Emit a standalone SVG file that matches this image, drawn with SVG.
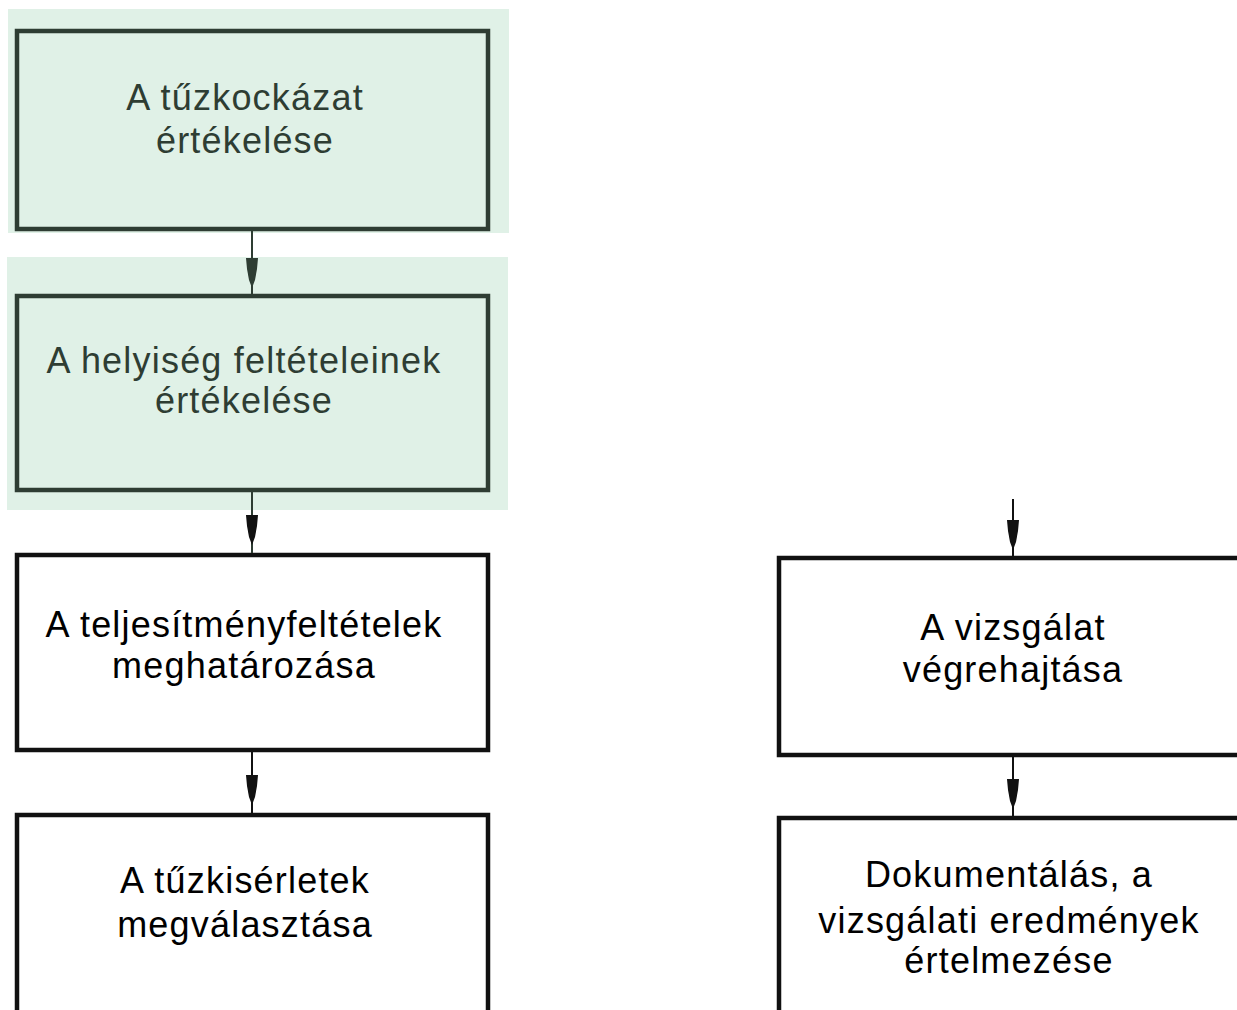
<svg xmlns="http://www.w3.org/2000/svg" width="1237" height="1010" viewBox="0 0 1237 1010">
<style>
  .bg{fill:#e0f1e7;stroke:none}
  .gbox{fill:#e0f1e7;stroke:#2e3d33;stroke-width:4.5}
  .wbox{fill:#ffffff;stroke:#111111;stroke-width:4.5}
  .t{font-family:"Liberation Sans",Arial,sans-serif;font-size:36px;text-anchor:middle;letter-spacing:1.2px}
  .gt{fill:#2e3d33}
  .wt{fill:#000000}
  .ln{stroke:#111111;stroke-width:2;fill:none}
  .gln{stroke:#2e3d33}
  .ah{fill:#111111}
</style>
<defs>
  <path id="ah" d="M-6,0 H6 L5,11 L3,22 L0,30 L-3,22 L-5,11 Z"/>
</defs>
<rect width="1237" height="1010" fill="#ffffff"/>
<g id="n1">
  <rect class="bg" x="8" y="9" width="501" height="224"/>
  <rect class="gbox" x="17" y="31" width="471" height="198"/>
  <text class="t gt" x="245" y="110">A tűzkockázat</text>
  <text class="t gt" x="245" y="153">értékelése</text>
</g>
<g id="n2">
  <rect class="bg" x="7" y="257" width="501" height="253"/>
  <rect class="gbox" x="17" y="296" width="471" height="194"/>
  <text class="t gt" x="244" y="373">A helyiség feltételeinek</text>
  <text class="t gt" x="244" y="413">értékelése</text>
</g>
<g id="n3">
  <rect class="wbox" x="17" y="555" width="471" height="195"/>
  <text class="t wt" x="244" y="637">A teljesítményfeltételek</text>
  <text class="t wt" x="244" y="678">meghatározása</text>
</g>
<g id="n4">
  <rect class="wbox" x="17" y="815" width="471" height="210"/>
  <text class="t wt" x="245" y="893">A tűzkisérletek</text>
  <text class="t wt" x="245" y="937">megválasztása</text>
</g>
<g id="n5">
  <rect class="wbox" x="779" y="558" width="470" height="197"/>
  <text class="t wt" x="1013" y="640">A vizsgálat</text>
  <text class="t wt" x="1013" y="682">végrehajtása</text>
</g>
<g id="n6">
  <rect class="wbox" x="779" y="818" width="470" height="210"/>
  <text class="t wt" x="1009" y="887">Dokumentálás, a</text>
  <text class="t wt" x="1009" y="933">vizsgálati eredmények</text>
  <text class="t wt" x="1009" y="973">értelmezése</text>
</g>
<g id="connectors">
  <line class="ln gln" x1="252" y1="231" x2="252" y2="294"/>
  <use href="#ah" fill="#2e3d33" transform="translate(252,258)"/>
  <line class="ln gln" x1="252" y1="492" x2="252" y2="553"/>
  <use href="#ah" class="ah" transform="translate(252,515)"/>
  <line class="ln" x1="252" y1="752" x2="252" y2="813"/>
  <use href="#ah" class="ah" transform="translate(252,775)"/>
  <line class="ln" x1="1013" y1="499" x2="1013" y2="556"/>
  <use href="#ah" class="ah" transform="translate(1013,520)"/>
  <line class="ln" x1="1013" y1="757" x2="1013" y2="816"/>
  <use href="#ah" class="ah" transform="translate(1013,779)"/>
</g>
</svg>
